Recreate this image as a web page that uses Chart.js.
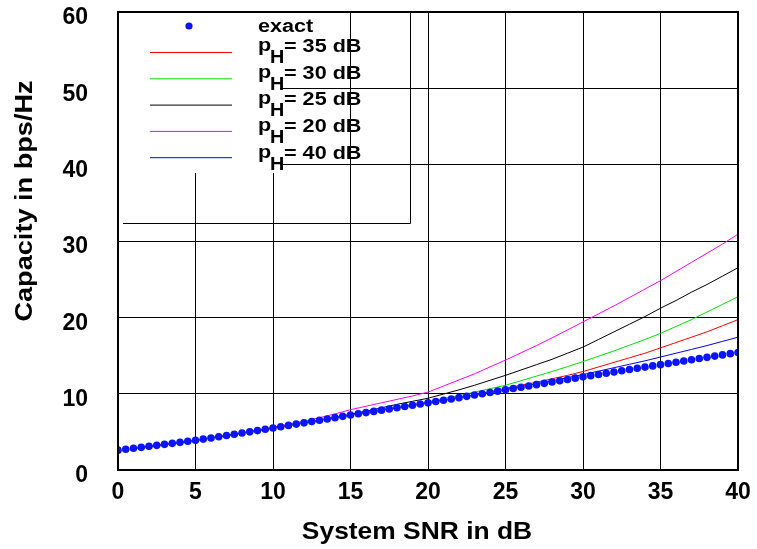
<!DOCTYPE html>
<html>
<head>
<meta charset="utf-8">
<script src="https://cdn.jsdelivr.net/npm/chart.js@4/dist/chart.umd.min.js"></script>
<style>
  body { margin: 0; background: #fff; }
  canvas { display: block; }
</style>
</head>
<body>
<canvas id="chart" width="757" height="549"></canvas>
<script>
// exact capacity, every 0.5 dB
const snrExact = [0,0.5,1,1.5,2,2.5,3,3.5,4,4.5,5,5.5,6,6.5,7,7.5,8,8.5,9,9.5,10,10.5,11,11.5,12,12.5,13,13.5,14,14.5,15,15.5,16,16.5,17,17.5,18,18.5,19,19.5,20,20.5,21,21.5,22,22.5,23,23.5,24,24.5,25,25.5,26,26.5,27,27.5,28,28.5,29,29.5,30,30.5,31,31.5,32,32.5,33,33.5,34,34.5,35,35.5,36,36.5,37,37.5,38,38.5,39,39.5,40];
const capExact = [2.60,2.72,2.85,2.97,3.10,3.23,3.36,3.49,3.62,3.76,3.90,4.05,4.20,4.36,4.52,4.68,4.84,5.00,5.16,5.33,5.50,5.67,5.84,6.01,6.18,6.35,6.52,6.69,6.86,7.03,7.20,7.36,7.52,7.68,7.84,8.00,8.16,8.32,8.48,8.64,8.80,8.97,9.14,9.31,9.48,9.65,9.82,9.99,10.16,10.33,10.50,10.67,10.84,11.01,11.18,11.35,11.52,11.69,11.86,12.03,12.20,12.36,12.52,12.68,12.84,13.00,13.16,13.32,13.48,13.64,13.80,13.96,14.12,14.28,14.44,14.60,14.76,14.92,15.08,15.24,15.40];

// approximations, every 1 dB
const snrLines = [1,2,3,4,5,6,7,8,9,10,11,12,13,14,15,16,17,18,19,20,21,22,23,24,25,26,27,28,29,30,31,32,33,34,35,36,37,38,39,40];
const capPH35 = [2.85,3.10,3.36,3.62,3.90,4.20,4.52,4.84,5.16,5.50,5.84,6.18,6.52,6.86,7.20,7.52,7.84,8.16,8.48,8.80,9.15,9.50,9.85,10.25,10.70,11.10,11.50,11.95,12.40,12.90,13.50,14.10,14.70,15.30,16.00,16.70,17.40,18.10,18.90,19.70];
const capPH30 = [2.85,3.10,3.36,3.62,3.90,4.20,4.52,4.84,5.16,5.50,5.84,6.18,6.52,6.86,7.20,7.60,7.95,8.30,8.60,8.95,9.35,9.75,10.20,10.65,11.10,11.70,12.30,12.90,13.55,14.20,14.90,15.60,16.35,17.10,17.90,18.80,19.70,20.70,21.70,22.70];
const capPH25 = [2.85,3.10,3.36,3.62,3.90,4.20,4.52,4.84,5.16,5.50,5.84,6.18,6.55,6.90,7.30,7.70,8.15,8.60,9.00,9.40,9.95,10.50,11.10,11.75,12.40,13.10,13.80,14.50,15.30,16.10,17.10,18.10,19.10,20.10,21.20,22.20,23.30,24.30,25.40,26.50];
const capPH20 = [2.85,3.10,3.36,3.62,3.90,4.20,4.53,4.86,5.20,5.60,6.00,6.40,6.85,7.35,7.90,8.35,8.80,9.25,9.70,10.20,11.00,11.80,12.60,13.50,14.40,15.35,16.30,17.30,18.35,19.40,20.45,21.50,22.60,23.70,24.80,26.00,27.20,28.40,29.60,30.90];
const capPH40 = [2.85,3.10,3.36,3.62,3.90,4.20,4.52,4.84,5.16,5.50,5.84,6.18,6.52,6.86,7.20,7.52,7.84,8.16,8.48,8.80,9.14,9.48,9.82,10.16,10.55,10.95,11.30,11.70,12.10,12.50,12.95,13.40,13.85,14.30,14.80,15.30,15.80,16.30,16.85,17.40];

const legendLabels = ["exact", "35", "30", "25", "20", "40"];
const lineColors = ["#ff0000", "#00e000", "#000000", "#ff00ff", "#0000ff"];

const FONT = "'Liberation Sans', Arial, sans-serif";

const puntos = (xs, ys) => xs.map((x, i) => ({ x: x, y: ys[i] }));

const linea = (ys, color) => ({
  data: puntos(snrLines, ys),
  showLine: true,
  borderColor: color,
  borderWidth: 1,
  pointRadius: 0,
  fill: false
});

// texto algo estirado en horizontal, como en la figura original
const texto = (ctx, t, x, y, sx) => {
  ctx.save();
  ctx.translate(x, y);
  ctx.scale(sx, 1);
  ctx.fillText(t, 0, 0);
  ctx.restore();
};

// caja de leyenda dibujada a mano (con el subindice H)
const leyenda = {
  id: "leyenda",
  beforeDatasetsDraw(chart) {
    const ctx = chart.ctx;
    ctx.save();
    ctx.fillStyle = "#fff";
    ctx.fillRect(119, 13, 161, 160);
    ctx.strokeStyle = "#000";
    ctx.lineWidth = 1;
    ctx.beginPath();
    ctx.moveTo(410.5, 12);
    ctx.lineTo(410.5, 223.5);
    ctx.lineTo(123, 223.5);
    ctx.stroke();
    ctx.restore();
  },
  afterDraw(chart) {
    const ctx = chart.ctx;
    const a = chart.chartArea;
    ctx.save();
    // marco
    ctx.strokeStyle = "#000";
    ctx.lineWidth = 2;
    ctx.strokeRect(a.left, a.top, a.right - a.left, a.bottom - a.top);

    // entrada "exact"
    ctx.fillStyle = "#0a14ff";
    ctx.beginPath();
    ctx.arc(189, 26, 3.6, 0, Math.PI * 2);
    ctx.fill();
    ctx.fillStyle = "#000";
    ctx.font = "bold 18px " + FONT;
    ctx.textBaseline = "middle";
    ctx.textAlign = "left";
    texto(ctx, legendLabels[0], 258, 27, 1.2);

    for (let i = 0; i < 5; i++) {
      const yl = 52.5 + i * 26.3;
      ctx.strokeStyle = lineColors[i];
      ctx.lineWidth = 1;
      ctx.beginPath();
      ctx.moveTo(150, yl);
      ctx.lineTo(232, yl);
      ctx.stroke();

      const yt = 47 + i * 26.7;
      ctx.fillStyle = "#000";
      texto(ctx, "p", 258, yt - 1, 1.2);
      texto(ctx, "H", 270, yt + 11, 1.1);
      texto(ctx, "= " + legendLabels[i + 1] + " dB", 284, yt, 1.2);
    }

    // titulos de ejes
    ctx.font = "bold 24px " + FONT;
    ctx.textAlign = "center";
    texto(ctx, "System SNR in dB", 417, 532, 1.1);
    ctx.translate(25, 201);
    ctx.rotate(-Math.PI / 2);
    texto(ctx, "Capacity in bps/Hz", 0, 0, 1.13);
    ctx.restore();
  }
};

const canvas = document.getElementById("chart").getContext("2d");

const config = {
  type: "scatter",
  data: {
    datasets: [
      {
        data: puntos(snrExact, capExact),
        showLine: false,
        pointRadius: 3.8,
        pointBackgroundColor: "#0a14ff",
        pointBorderWidth: 0
      },
      linea(capPH35, lineColors[0]),
      linea(capPH30, lineColors[1]),
      linea(capPH25, lineColors[2]),
      linea(capPH20, lineColors[3]),
      linea(capPH40, lineColors[4])
    ]
  },
  options: {
    responsive: false,
    animation: false,
    layout: { padding: { top: 12, right: 19 } },
    plugins: {
      legend: { display: false },
      tooltip: { enabled: false }
    },
    scales: {
      x: {
        min: 0,
        max: 40,
        afterFit: s => { s.height = 79; s.paddingLeft = 0; s.paddingRight = 0; },
        ticks: {
          stepSize: 5,
          color: "#000",
          padding: 9,
          maxRotation: 0,
          font: { family: FONT, size: 23, weight: "bold" }
        },
        grid: { color: "#000", lineWidth: 1, drawTicks: false },
        border: { color: "#000", width: 2 }
      },
      y: {
        min: 0,
        max: 60,
        afterFit: s => { s.width = 118; s.paddingTop = 0; s.paddingBottom = 0; },
        ticks: {
          stepSize: 10,
          color: "#000",
          padding: 30,
          labelOffset: 6,
          font: { family: FONT, size: 23, weight: "bold" }
        },
        grid: { color: "#000", lineWidth: 1, drawTicks: false },
        border: { color: "#000", width: 2 }
      }
    }
  },
  plugins: [leyenda]
};

const chart = new Chart(canvas, config);
</script>
</body>
</html>
